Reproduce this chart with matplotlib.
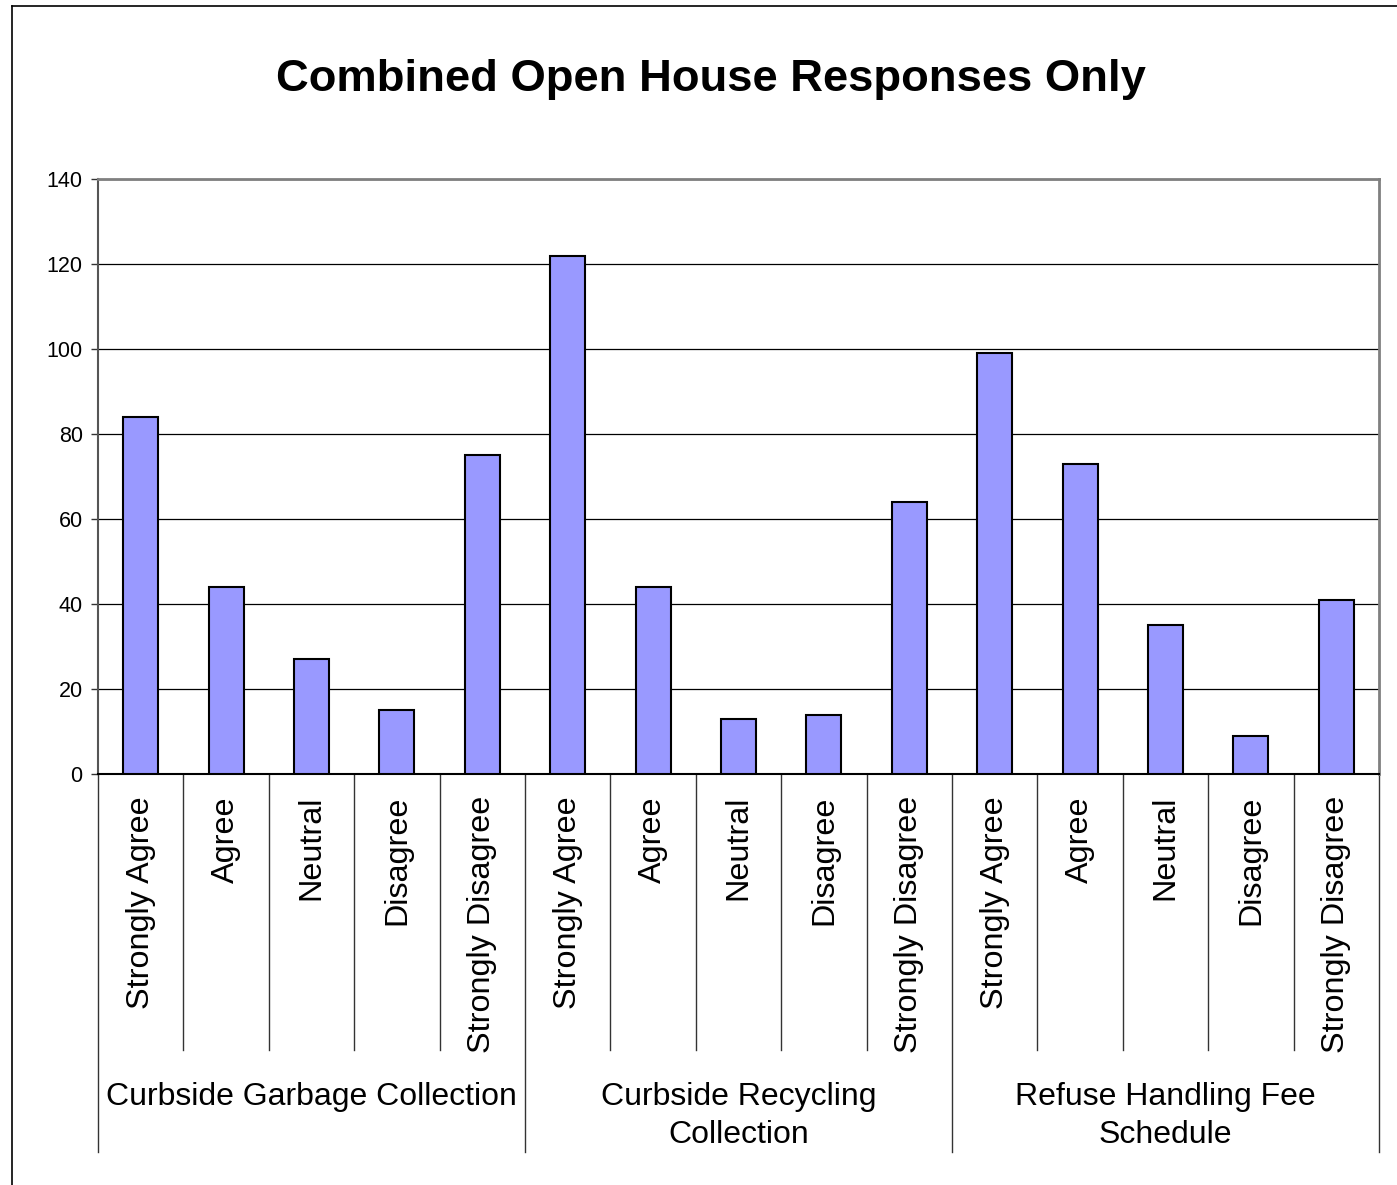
import matplotlib.pyplot as plt
from matplotlib.lines import Line2D
import numpy as np

plt.rcParams['font.family'] = ['Liberation Sans', 'DejaVu Sans']

groups = ['Curbside Garbage Collection', 'Curbside Recycling\nCollection', 'Refuse Handling Fee\nSchedule']
answers = ['Strongly Agree', 'Agree', 'Neutral', 'Disagree', 'Strongly Disagree']
garbage = [84, 44, 27, 15, 75]
recycling = [122, 44, 13, 14, 64]
fee = [99, 73, 35, 9, 41]

values = garbage + recycling + fee
labels = answers * len(groups)
x = np.arange(len(values))

fig = plt.figure(figsize=(13.97, 11.85), dpi=100)
ax = fig.add_axes([98/1397, 1-774/1185, (1379-98)/1397, (774-179)/1185])

ax.bar(x, values, width=0.41, color='#9999FF', edgecolor='black', linewidth=1.5, zorder=3)

ax.set_xlim(-0.5, len(values) - 0.5)
ax.set_ylim(0, 140)
ax.set_yticks(range(0, 141, 20))
ax.yaxis.grid(True, color='black', linewidth=0.9, zorder=0)
ax.tick_params(axis='y', labelsize=15.5, length=5, width=1, color='#333333', pad=6)
ax.set_xticks([])

for s in ['top', 'right']:
    ax.spines[s].set_color('#808080')
    ax.spines[s].set_linewidth(2)
ax.spines['left'].set_color('#555555')
ax.spines['left'].set_linewidth(1.5)
ax.spines['bottom'].set_color('black')
ax.spines['bottom'].set_linewidth(1.5)

# category labels, rotated
trans = ax.get_xaxis_transform()
for xi, lab in zip(x, labels):
    ax.text(xi, -0.037, lab, rotation=90, ha='center', va='top', fontsize=23.3, transform=trans)

# separators below the axis
n = len(answers)
for i in range(len(values) + 1):
    xb = i - 0.5
    bottom = -0.6353 if i % n == 0 else -0.4639
    ax.add_line(Line2D([xb, xb], [0, bottom], transform=trans, color='#333333',
                       linewidth=1, clip_on=False))

for g, name in enumerate(groups):
    ax.text(g * n + (n - 1) / 2, -0.517, name, ha='center', va='top', fontsize=23,
            multialignment='center', linespacing=1.37, transform=trans)

fig.text(711/1397, 1-80/1185, 'Combined Open House Responses Only', ha='center', va='center',
         fontsize=32.7, fontweight='bold')

# chart area border (left and top visible)
fig.add_artist(Line2D([12/1397, 12/1397], [0, 1-6/1185], transform=fig.transFigure, color='black', linewidth=1.2))
fig.add_artist(Line2D([12/1397, 1], [1-6/1185, 1-6/1185], transform=fig.transFigure, color='black', linewidth=1.2))

fig.savefig('out.png', dpi=100)
